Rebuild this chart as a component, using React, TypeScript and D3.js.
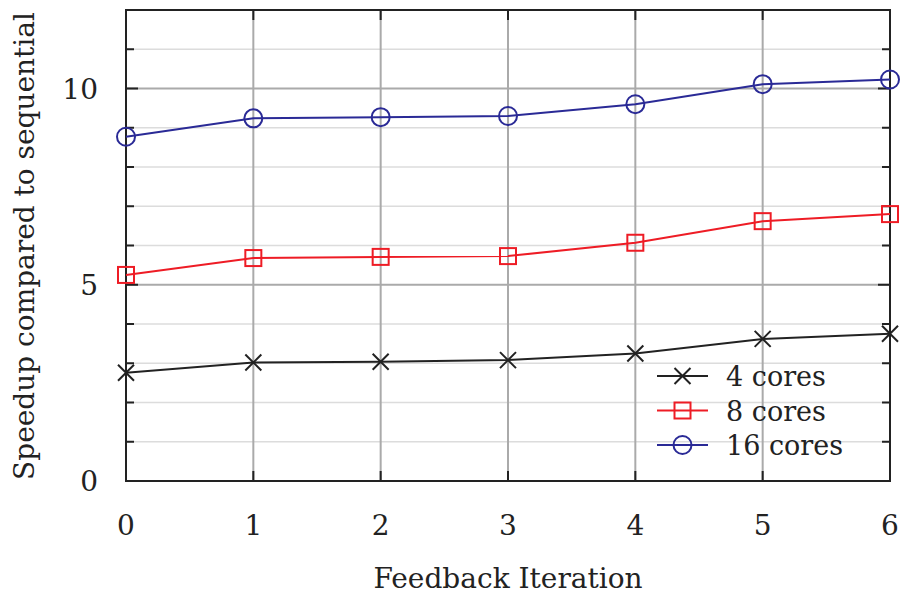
import React from "react";
import * as d3 from "d3";

const iterations = [0, 1, 2, 3, 4, 5, 6];
const cores4 = [2.76, 3.02, 3.04, 3.08, 3.25, 3.62, 3.75];
const cores8 = [5.25, 5.68, 5.71, 5.73, 6.07, 6.62, 6.8];
const cores16 = [8.77, 9.24, 9.27, 9.3, 9.6, 10.11, 10.23];
const seriesNames = ["4 cores", "8 cores", "16 cores"];
const yMajorTicks = [0, 5, 10];
const yMinorTicks = [1, 2, 3, 4, 6, 7, 8, 9, 11, 12];

const W = 903, H = 599;
const L = 126, R = 890, T = 10, B = 481;
const FONT = "'DejaVu Serif', serif";

export default function App() {
  const x = d3.scaleLinear().domain([0, 6]).range([L, R]);
  const y = d3.scaleLinear().domain([0, 12]).range([B, T]);
  const line = d3.line<number>().x((_, i) => x(iterations[i])).y((d) => y(d));
  const series = [
    { name: seriesNames[0], data: cores4, color: "#222222", marker: "x" },
    { name: seriesNames[1], data: cores8, color: "#ee1c25", marker: "s" },
    { name: seriesNames[2], data: cores16, color: "#2a2a96", marker: "o" },
  ];
  const marker = (m: string, cx: number, cy: number, color: string, key: any) => {
    if (m === "x")
      return (
        <path key={key} d={`M${cx - 8},${cy - 8}L${cx + 8},${cy + 8}M${cx - 8},${cy + 8}L${cx + 8},${cy - 8}`} stroke={color} strokeWidth={2} fill="none" />
      );
    if (m === "s")
      return <rect key={key} x={cx - 8} y={cy - 8} width={16} height={16} stroke={color} strokeWidth={2} fill="none" />;
    return <circle key={key} cx={cx} cy={cy} r={9} stroke={color} strokeWidth={2} fill="none" />;
  };
  return (
    <svg width={W} height={H} style={{ position: "absolute", left: 0, top: 0, background: "#fff" }} fontFamily={FONT}>
      <rect x={0} y={0} width={W} height={H} fill="#fff" />
      {yMinorTicks.map((t) => (
        <line key={"mg" + t} x1={L} x2={R} y1={y(t)} y2={y(t)} stroke="#dcdcdc" strokeWidth={1.5} />
      ))}
      {yMajorTicks.slice(1).map((t) => (
        <line key={"Mg" + t} x1={L} x2={R} y1={y(t)} y2={y(t)} stroke="#aaaaaa" strokeWidth={2} />
      ))}
      {iterations.slice(1, -1).map((t) => (
        <line key={"xg" + t} x1={x(t)} x2={x(t)} y1={T} y2={B} stroke="#aaaaaa" strokeWidth={2} />
      ))}
      {iterations.map((t) => (
        <g key={"xt" + t}>
          <line x1={x(t)} x2={x(t)} y1={B} y2={B - 10} stroke="#222" strokeWidth={2} />
          <line x1={x(t)} x2={x(t)} y1={T} y2={T + 10} stroke="#222" strokeWidth={2} />
        </g>
      ))}
      {yMinorTicks.map((t) => (
        <g key={"ymt" + t}>
          <line x1={L} x2={L + 8} y1={y(t)} y2={y(t)} stroke="#222" strokeWidth={2} />
          <line x1={R} x2={R - 8} y1={y(t)} y2={y(t)} stroke="#222" strokeWidth={2} />
        </g>
      ))}
      {yMajorTicks.map((t) => (
        <g key={"yMt" + t}>
          <line x1={L} x2={L + 12} y1={y(t)} y2={y(t)} stroke="#222" strokeWidth={2} />
          <line x1={R} x2={R - 12} y1={y(t)} y2={y(t)} stroke="#222" strokeWidth={2} />
        </g>
      ))}
      <rect x={L} y={T} width={R - L} height={B - T} fill="none" stroke="#222" strokeWidth={2} />
      {series.map((s) => (
        <g key={s.name}>
          <path d={line(s.data) || ""} fill="none" stroke={s.color} strokeWidth={2} />
          {s.data.map((v, i) => marker(s.marker, x(iterations[i]), y(v), s.color, i))}
        </g>
      ))}
      {iterations.map((t) => (
        <text key={"xl" + t} x={x(t)} y={535} textAnchor="middle" fontSize={28} fill="#222">{t}</text>
      ))}
      {yMajorTicks.map((t) => (
        <text key={"yl" + t} x={98} y={y(t) + 10} textAnchor="end" fontSize={28} fill="#222">{t}</text>
      ))}
      <text x={508} y={588} textAnchor="middle" fontSize={28} fill="#222">Feedback Iteration</text>
      <text transform={`translate(34,${246}) rotate(-90)`} textAnchor="middle" fontSize={28} fill="#222">Speedup compared to sequential</text>
      {series.map((s, i) => {
        const cy = 376 + i * 34.5;
        return (
          <g key={"lg" + i}>
            <line x1={657} x2={708} y1={cy} y2={cy} stroke={s.color} strokeWidth={2} />
            {marker(s.marker, 682.5, cy, s.color, "m")}
            <text x={726} y={cy + 10} fontSize={27} fill="#222">{s.name}</text>
          </g>
        );
      })}
    </svg>
  );
}
